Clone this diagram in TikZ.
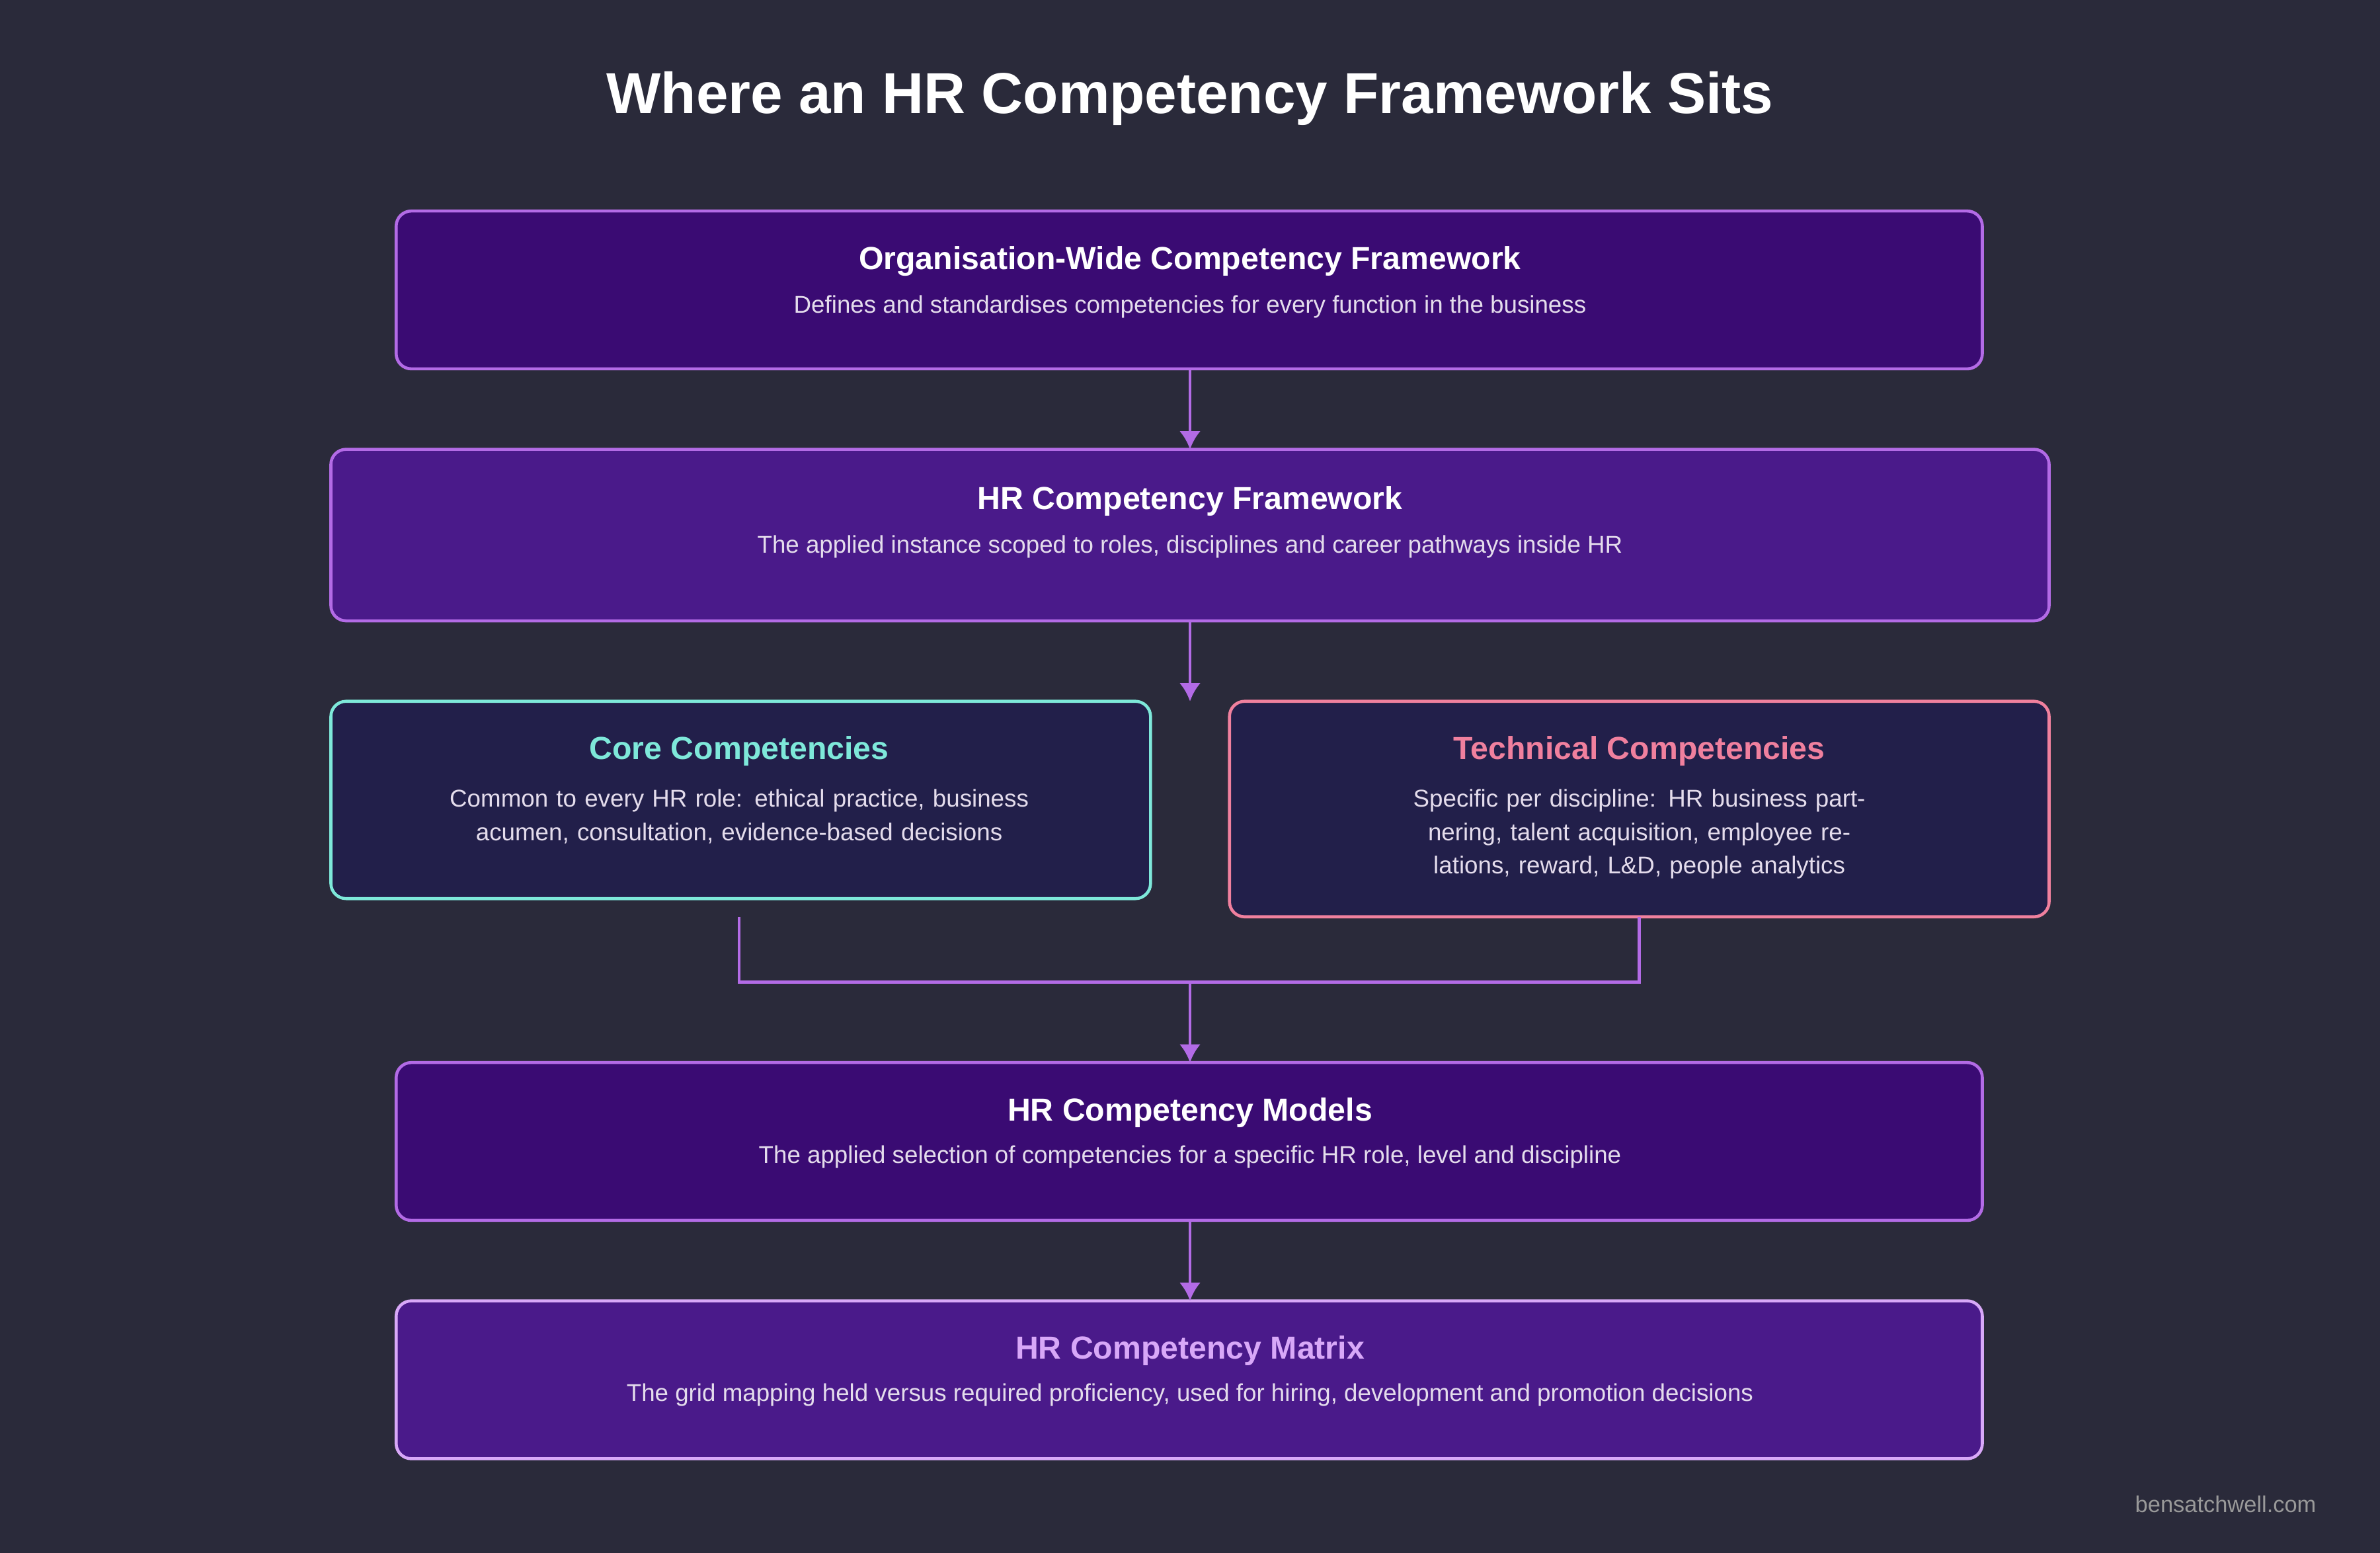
\documentclass[tikz,border=0pt]{standalone}
\usepackage{fontspec}
\setmainfont{Liberation Sans}
\usetikzlibrary{arrows.meta,positioning}
\definecolor{bg}{HTML}{2A2A3A}
\definecolor{deep}{HTML}{3A0B73}
\definecolor{mid}{HTML}{4A1A8A}
\definecolor{dark}{HTML}{221F4A}
\definecolor{line}{HTML}{B36BE6}
\definecolor{teal}{HTML}{7EE8DA}
\definecolor{pink}{HTML}{F0809E}
\definecolor{lilac}{HTML}{D8A8F8}
\definecolor{body}{HTML}{E4DCEC}
\tikzset{
  box/.style={draw=line, line width=1pt, rounded corners=5pt},
  ttl/.style={font=\bfseries\fontsize{10.5}{12}\selectfont, text=white},
  txt/.style={font=\fontsize{8}{11}\selectfont, text=body, align=center},
  arr/.style={draw=line, line width=1pt, -{Latex[length=6pt,width=7pt]}},
  seg/.style={draw=line, line width=1pt}
}
\begin{document}
\begin{tikzpicture}[x=0.5pt,y=-0.5pt]
\fill[bg] (0,0) rectangle (1568,1023);
\useasboundingbox (0,0) rectangle (1568,1023);
\node[font=\bfseries\fontsize{19}{22}\selectfont, text=white] (title) at (784,65) {Where an HR Competency Framework Sits};

% boxes
\draw[box, fill=deep] (261,139) rectangle (1306,243);
\draw[box, fill=mid]  (218,296) rectangle (1350,409);
\draw[box, fill=dark, draw=teal] (218,462) rectangle (758,592);
\draw[box, fill=dark, draw=pink] (810,462) rectangle (1350,604);
\draw[box, fill=deep] (261,700) rectangle (1306,804);
\draw[box, fill=mid, draw=lilac]  (261,857) rectangle (1306,961);

% anchors
\coordinate (org-s) at (784,243);  \coordinate (hr-n) at (784,296);
\coordinate (hr-s) at (784,409);   \coordinate (split) at (784,462);
\coordinate (core-s) at (487,604); \coordinate (tech-s) at (1080,604);
\coordinate (core-j) at (487,647); \coordinate (tech-j) at (1080,647);
\coordinate (mid-j) at (784,647);
\coordinate (mod-n) at (784,700);  \coordinate (mod-s) at (784,804);
\coordinate (mat-n) at (784,857);

% texts
\node[ttl] (orgT) at (784,172) {Organisation-Wide Competency Framework};
\node[txt] (orgB) at (784,202) {Defines and standardises competencies for every function in the business};
\node[ttl] (hrT) at (784,330) {HR Competency Framework};
\node[txt] (hrB) at (784,360) {The applied instance scoped to roles, disciplines and career pathways inside HR};
\node[ttl, text=teal] (coreT) at (487,495) {Core Competencies};
\node[txt, text width=195pt, anchor=north] (coreB) at (487,513) {Common to every HR role: ethical practice, business acumen, consultation, evidence-based decisions};
\node[ttl, text=pink] (techT) at (1080,495) {Technical Competencies};
\node[txt, text width=195pt, anchor=north] (techB) at (1080,513) {Specific per discipline: HR business partnering, talent acquisition, employee relations, reward, L\&D, people analytics};
\node[ttl] (modT) at (784,733) {HR Competency Models};
\node[txt] (modB) at (784,762) {The applied selection of competencies for a specific HR role, level and discipline};
\node[ttl, text=lilac] (matT) at (784,890) {HR Competency Matrix};
\node[txt] (matB) at (784,919) {The grid mapping held versus required proficiency, used for hiring, development and promotion decisions};
\node[font=\fontsize{7.5}{9}\selectfont, text=gray!80, anchor=east] (site) at (1533,991) {bensatchwell.com};

% connectors
\draw[arr] (org-s) -- (hr-n);
\draw[arr] (hr-s) -- (split);
\draw[seg] (core-s) -- (core-j) -- (tech-j) -- (tech-s);
\draw[arr] (mid-j) -- (mod-n);
\draw[arr] (mod-s) -- (mat-n);
\end{tikzpicture}
\end{document}
